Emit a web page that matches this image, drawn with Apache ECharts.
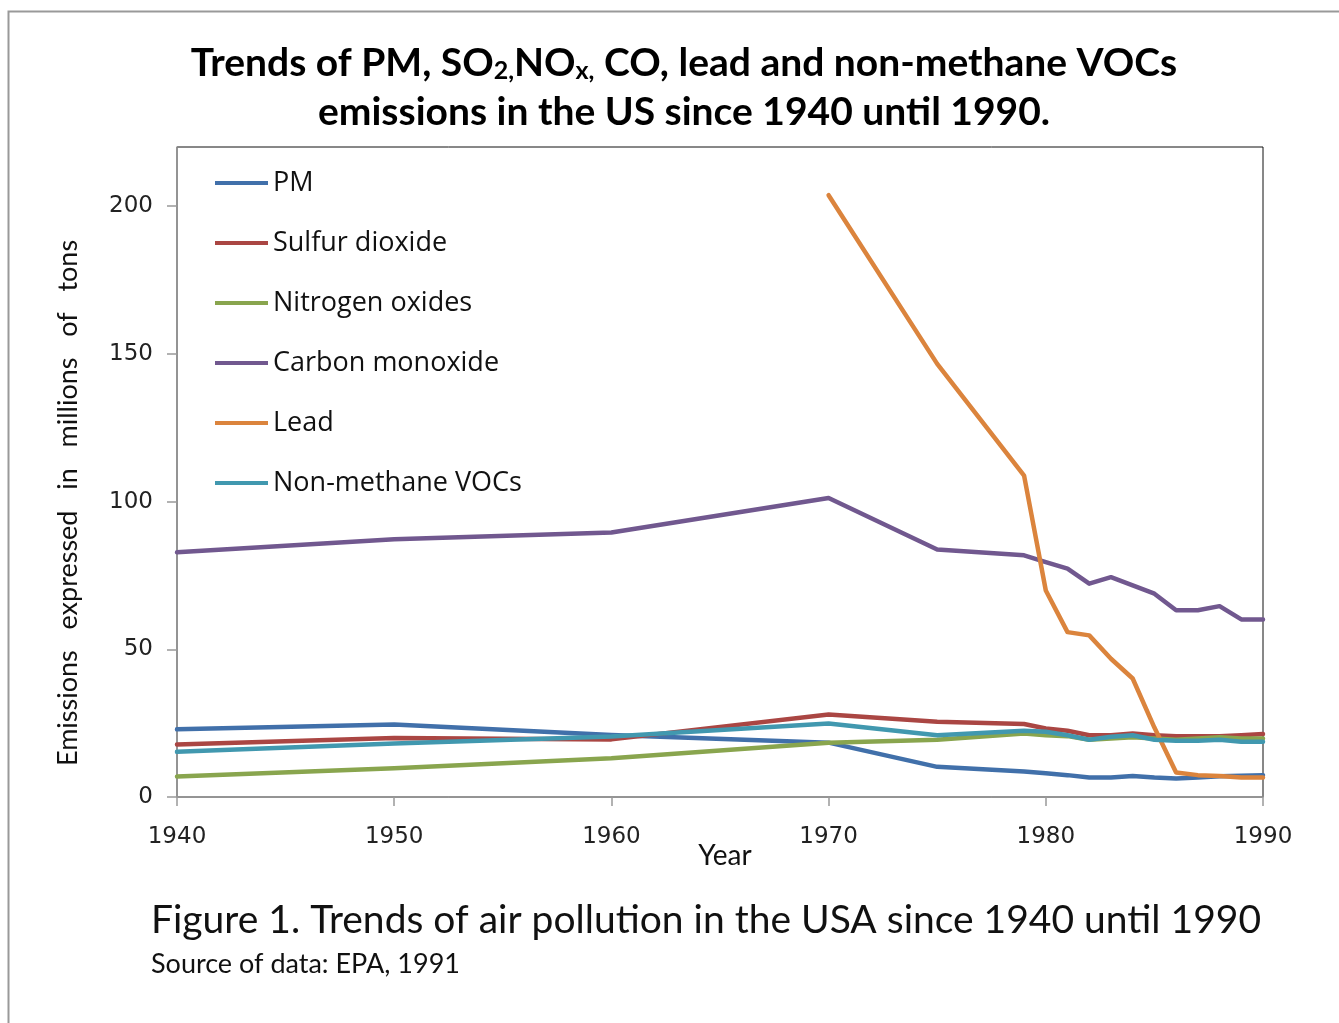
<!DOCTYPE html>
<html>
<head>
<meta charset="utf-8">
<title>Trends of air pollution in the USA 1940-1990</title>
<script src="https://cdn.jsdelivr.net/npm/echarts@6/dist/echarts.min.js"></script>
<style>
  html, body { margin: 0; padding: 0; background: #fff; }
  #chart { width: 1339px; height: 1023px; }
</style>
</head>
<body>
<div id="chart"></div>
<script>
// Emissions in millions of tons (EPA, 1991)
const years = [1940, 1950, 1960, 1970, 1975, 1979, 1980, 1981, 1982, 1983, 1984, 1985, 1986, 1987, 1988, 1989, 1990];
const pm   = [22.9, 24.5, 21.0, 18.4, 10.2, 8.6, 8.0, 7.4, 6.6, 6.6, 7.1, 6.6, 6.3, 6.6, 7.0, 7.2, 7.4];
const so2  = [17.8, 20.0, 19.5, 27.9, 25.5, 24.7, 23.2, 22.4, 20.9, 20.9, 21.5, 20.9, 20.6, 20.6, 20.6, 20.9, 21.3];
const nox  = [6.9, 9.7, 13.1, 18.4, 19.4, 21.5, 20.9, 20.6, 19.4, 19.8, 20.2, 19.8, 19.4, 19.8, 20.2, 19.8, 19.8];
const co   = [82.8, 87.2, 89.5, 101.2, 83.8, 81.8, 79.5, 77.3, 72.2, 74.4, 71.6, 68.8, 63.2, 63.2, 64.6, 60.1, 60.1];
const lead = [null, null, null, 203.7, 146.6, 108.8, 69.9, 55.8, 54.7, 46.8, 40.1, 23.5, 8.3, 7.4, 7.1, 6.6, 6.6];
const voc  = [15.3, 18.1, 20.5, 24.9, 20.9, 22.4, 22.1, 20.9, 19.4, 20.4, 20.9, 19.4, 19.0, 19.0, 19.4, 18.7, 18.7];

const seriesNames = ['PM', 'Sulfur dioxide', 'Nitrogen oxides', 'Carbon monoxide', 'Lead', 'Non-methane VOCs'];
const seriesColors = ['#4170AA', '#AA4643', '#89A54E', '#71588F', '#DB843D', '#4198AF'];
const seriesValues = [pm, so2, nox, co, lead, voc];

const yTicks = [0, 50, 100, 150, 200];
const xTicks = [1940, 1950, 1960, 1970, 1980, 1990];

const titleFont = 'Lato, "Open Sans", sans-serif';
const bodyFont = 'Lato, "Open Sans", sans-serif';
const tickFont = '"DejaVu Sans", Verdana, sans-serif';

function pairs(values) {
  const out = [];
  values.forEach((v, i) => { if (v !== null) out.push([years[i], v]); });
  return out;
}

const chart = echarts.init(document.getElementById('chart'), null, { renderer: 'canvas' });

chart.setOption({
  backgroundColor: '#fff',
  animation: false,
  grid: {
    left: 177, top: 147, right: 76, bottom: 226,
    show: true, borderColor: '#111', borderWidth: 1, backgroundColor: 'transparent'
  },
  legend: {
    orient: 'vertical',
    left: 215, top: 167,
    padding: 0,
    icon: 'rect',
    itemWidth: 53, itemHeight: 4,
    itemGap: 28,
    textStyle: { fontFamily: '"Open Sans", sans-serif', fontSize: 27, color: '#111', lineHeight: 32 },
    data: seriesNames
  },
  xAxis: {
    type: 'value',
    min: 1940, max: 1990, interval: 10,
    axisLine: { show: true, lineStyle: { color: '#999', width: 1.5 } },
    axisTick: { show: true, inside: false, length: 9, lineStyle: { color: '#999', width: 1.5 } },
    axisLabel: {
      margin: 29,
      fontFamily: tickFont, fontSize: 23, color: '#222',
      customValues: xTicks,
      formatter: v => String(v)
    },
    splitLine: { show: false }
  },
  yAxis: {
    type: 'value',
    min: 0, max: 220, interval: 50,
    axisLine: { show: true, lineStyle: { color: '#999', width: 1.5 } },
    axisTick: { show: true, inside: false, length: 10, lineStyle: { color: '#999', width: 1.5 }, customValues: yTicks },
    axisLabel: {
      margin: 24,
      fontFamily: tickFont, fontSize: 23, color: '#222',
      customValues: yTicks
    },
    splitLine: { show: false }
  },
  series: seriesNames.map((name, i) => ({
    name: name,
    type: 'line',
    data: pairs(seriesValues[i]),
    symbol: 'none',
    lineStyle: { color: seriesColors[i], width: 4.5, join: 'round', cap: 'round' },
    itemStyle: { color: seriesColors[i] },
    z: 2 + i
  })),
  graphic: [
    {
      type: 'rect',
      shape: { x: 8.5, y: 11.5, width: 1400, height: 1100 },
      style: { fill: 'none', stroke: '#999', lineWidth: 2 },
      silent: true
    },
    {
      type: 'text',
      x: 684, y: 59,
      style: {
        text: '{t|Trends of PM, SO}{s|2,}{t|NO}{s|x,}{t| CO, lead and non-methane VOCs}',
        align: 'center', verticalAlign: 'middle',
        rich: {
          t: { fontFamily: titleFont, fontWeight: 'bold', fontSize: 39, lineHeight: 48, verticalAlign: 'bottom', fill: '#000' },
          s: { fontFamily: titleFont, fontWeight: 'bold', fontSize: 25, lineHeight: 28, verticalAlign: 'bottom', fill: '#000' }
        }
      }
    },
    {
      type: 'text',
      x: 684, y: 112,
      style: {
        text: 'emissions in the US since 1940 until 1990.',
        align: 'center', verticalAlign: 'middle',
        font: 'bold 39px ' + titleFont, fill: '#000'
      }
    },
    {
      type: 'text',
      x: 68, y: 503,
      rotation: Math.PI / 2,
      style: {
        text: 'Emissions   expressed   in   millions   of   tons',
        align: 'center', verticalAlign: 'middle',
        font: '27px ' + bodyFont, fill: '#111'
      }
    },
    {
      type: 'text',
      x: 725, y: 856,
      style: {
        text: 'Year',
        align: 'center', verticalAlign: 'middle',
        font: '28px ' + bodyFont, fill: '#111'
      }
    },
    {
      type: 'text',
      x: 151, y: 920,
      style: {
        text: 'Figure 1. Trends of air pollution in the USA since 1940 until 1990',
        align: 'left', verticalAlign: 'middle',
        font: '39px ' + bodyFont, fill: '#111'
      }
    },
    {
      type: 'text',
      x: 151, y: 964,
      style: {
        text: 'Source of data: EPA, 1991',
        align: 'left', verticalAlign: 'middle',
        font: '27px ' + bodyFont, fill: '#111'
      }
    }
  ]
});
</script>
</body>
</html>
